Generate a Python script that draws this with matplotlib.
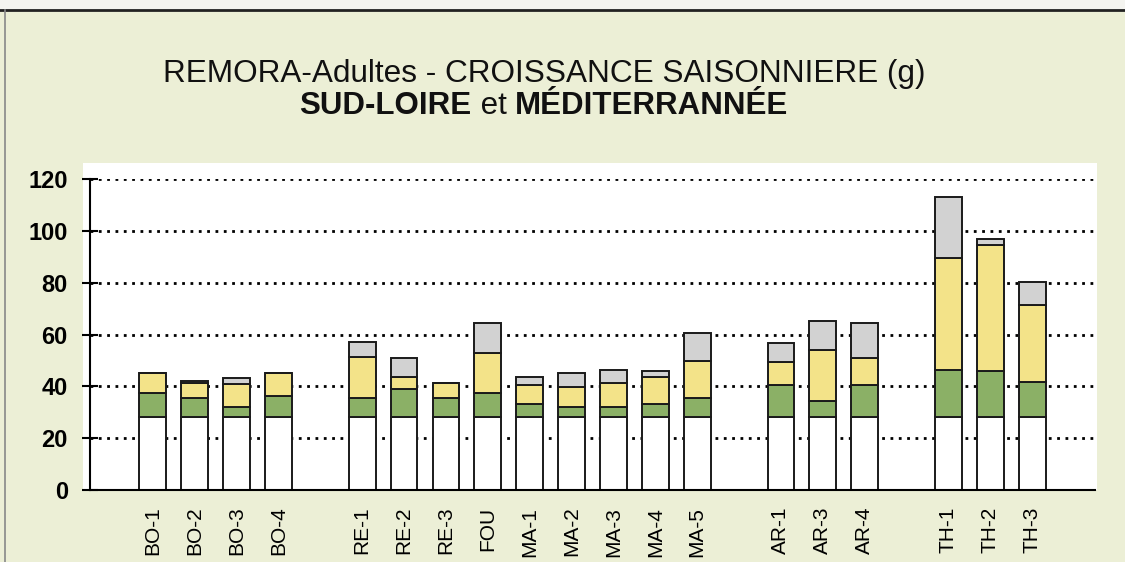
import numpy as np
import matplotlib
matplotlib.use('Agg')
import matplotlib.pyplot as plt
from matplotlib.patches import Rectangle
from matplotlib.lines import Line2D

plt.rcParams['font.family'] = ['Liberation Sans', 'DejaVu Sans']

# '' = empty category used by the original sheet to separate groups
categories = ['', 'BO-1', 'BO-2', 'BO-3', 'BO-4', '',
              'RE-1', 'RE-2', 'RE-3', 'FOU', 'MA-1', 'MA-2', 'MA-3', 'MA-4', 'MA-5', '',
              'AR-1', 'AR-3', 'AR-4', '',
              'TH-1', 'TH-2', 'TH-3', '']

nan = np.nan
initial = [nan, 28, 28, 28, 28, nan,
           28, 28, 28, 28, 28, 28, 28, 28, 28, nan,
           28, 28, 28, nan,
           28, 28, 28, nan]
green = [nan, 9.3, 7.6, 4.2, 8.3, nan,
         7.6, 10.9, 7.6, 9.3, 5.2, 4.2, 4.2, 5.2, 7.6, nan,
         12.5, 6.4, 12.5, nan,
         18.3, 17.9, 13.8, nan]
yellow = [nan, 8.0, 5.8, 8.6, 9.0, nan,
          15.6, 4.6, 5.8, 15.7, 7.3, 7.7, 9.2, 10.5, 14.2, nan,
          8.7, 19.7, 10.3, nan,
          43.1, 48.7, 29.4, nan]
grey = [nan, 0.0, 0.6, 2.3, 0.0, nan,
        6.1, 7.3, 0.0, 11.4, 3.2, 5.4, 4.9, 2.2, 10.7, nan,
        7.7, 11.3, 13.6, nan,
        23.5, 2.3, 9.2, nan]

cats = np.array(categories)
x = np.arange(len(cats))
keep = cats != ''
xs = x[keep]
s_init = np.array(initial)[keep]
s_green = np.array(green)[keep]
s_yellow = np.array(yellow)[keep]
s_grey = np.array(grey)[keep]

bg = '#ecefd6'
fig = plt.figure(figsize=(11.25, 5.62), dpi=100, facecolor=bg)

# white plot area behind the axes, plus the sheet border lines
fig.add_artist(Rectangle((0.0738, 0.128), 0.9013, 0.582, transform=fig.transFigure,
                         facecolor='white', edgecolor='none', zorder=0))
fig.add_artist(Rectangle((0, 0.982), 1, 0.018, transform=fig.transFigure,
                         facecolor='#f4f4f0', edgecolor='none', zorder=0))
fig.add_artist(Line2D([0, 1], [0.982, 0.982], transform=fig.transFigure,
                      color='#222222', lw=2))
fig.add_artist(Line2D([0.0045, 0.0045], [0, 0.982], transform=fig.transFigure,
                      color='#888888', lw=1.2))

ax = fig.add_axes([0.08, 0.1281, 0.8933, 0.5534])
ax.set_facecolor('white')

w = 0.64
ec = '#1a1a1a'
lw = 1.4
ax.bar(xs, s_init, w, color='white', edgecolor=ec, linewidth=lw)
b = s_init
ax.bar(xs, s_green, w, bottom=b, color='#8bb066', edgecolor=ec, linewidth=lw)
b = b + s_green
ax.bar(xs, s_yellow, w, bottom=b, color='#f3e389', edgecolor=ec, linewidth=lw)
b = b + s_yellow
ax.bar(xs, s_grey, w, bottom=b, color='#d2d2d2', edgecolor=ec, linewidth=lw)

ax.set_xlim(-0.5, len(cats) - 0.5)
ax.set_ylim(0, 120)
ax.set_yticks(np.arange(0, 121, 20))
ax.set_xticks(xs)
ax.set_xticklabels(cats[keep], rotation=90, fontsize=15)
ax.tick_params(axis='x', length=0, pad=12)
ax.tick_params(axis='y', direction='inout', length=12, width=1.5, pad=10, labelsize=17)
for lab in ax.get_yticklabels():
    lab.set_fontweight('bold')

ax.yaxis.grid(True, color='black', linestyle=(0, (1, 2)), linewidth=2)
ax.set_axisbelow(True)
for side in ['top', 'right']:
    ax.spines[side].set_visible(False)
for side in ['left', 'bottom']:
    ax.spines[side].set_linewidth(1.5)
    ax.spines[side].set_color('black')

# titles
cx = 0.4836
fig.text(cx, 0.8546, 'REMORA-Adultes - CROISSANCE SAISONNIERE (g)',
         ha='center', va='baseline', fontsize=22.7, color='#111111')

parts = [('SUD-LOIRE', 'bold'), (' et ', 'normal'), ('MÉDITERRANNÉE', 'bold')]
texts = [fig.text(0, 0.797, s, ha='left', va='baseline', fontsize=22.5,
                  fontweight=wt, color='#111111') for s, wt in parts]
renderer = fig.canvas.get_renderer()
widths = [t.get_window_extent(renderer).width / fig.bbox.width for t in texts]
pos = cx - sum(widths) / 2
for t, wd in zip(texts, widths):
    t.set_x(pos)
    pos += wd

fig.savefig('out.png', dpi=100, facecolor=bg)
